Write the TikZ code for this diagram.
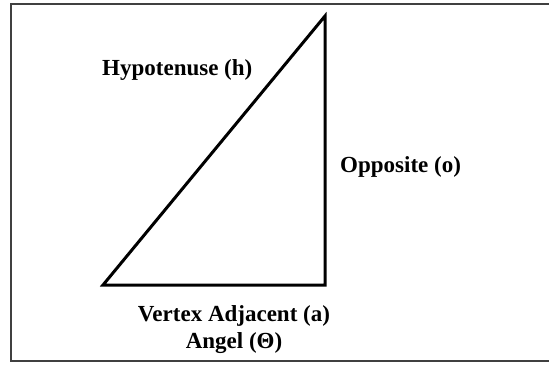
\documentclass[tikz,border=0pt]{standalone}
\usepackage{fontspec}
\setmainfont{Liberation Serif}
\begin{document}
\begin{tikzpicture}[x=1pt,y=-1pt,lbl/.style={font=\fontsize{23}{26.5}\selectfont\bfseries,inner sep=0}]
\useasboundingbox (0,0) rectangle (549,365);
\draw[line width=1.5,black!75] (11,4) rectangle (560,361);
\coordinate (A) at (103,285);
\coordinate (B) at (325,285);
\coordinate (C) at (325,16);
\draw[line width=3] (A)--(B)--(C)--cycle;
\node[lbl,anchor=base west] (hyp) at (102,75) {Hypotenuse (h)};
\node[lbl,anchor=base west] (opp) at (340,172) {Opposite (o)};
\node[lbl,anchor=base,align=center] (adj) at (234,348) {Vertex Adjacent (a)\\Angel (Θ)};
\end{tikzpicture}
\end{document}
